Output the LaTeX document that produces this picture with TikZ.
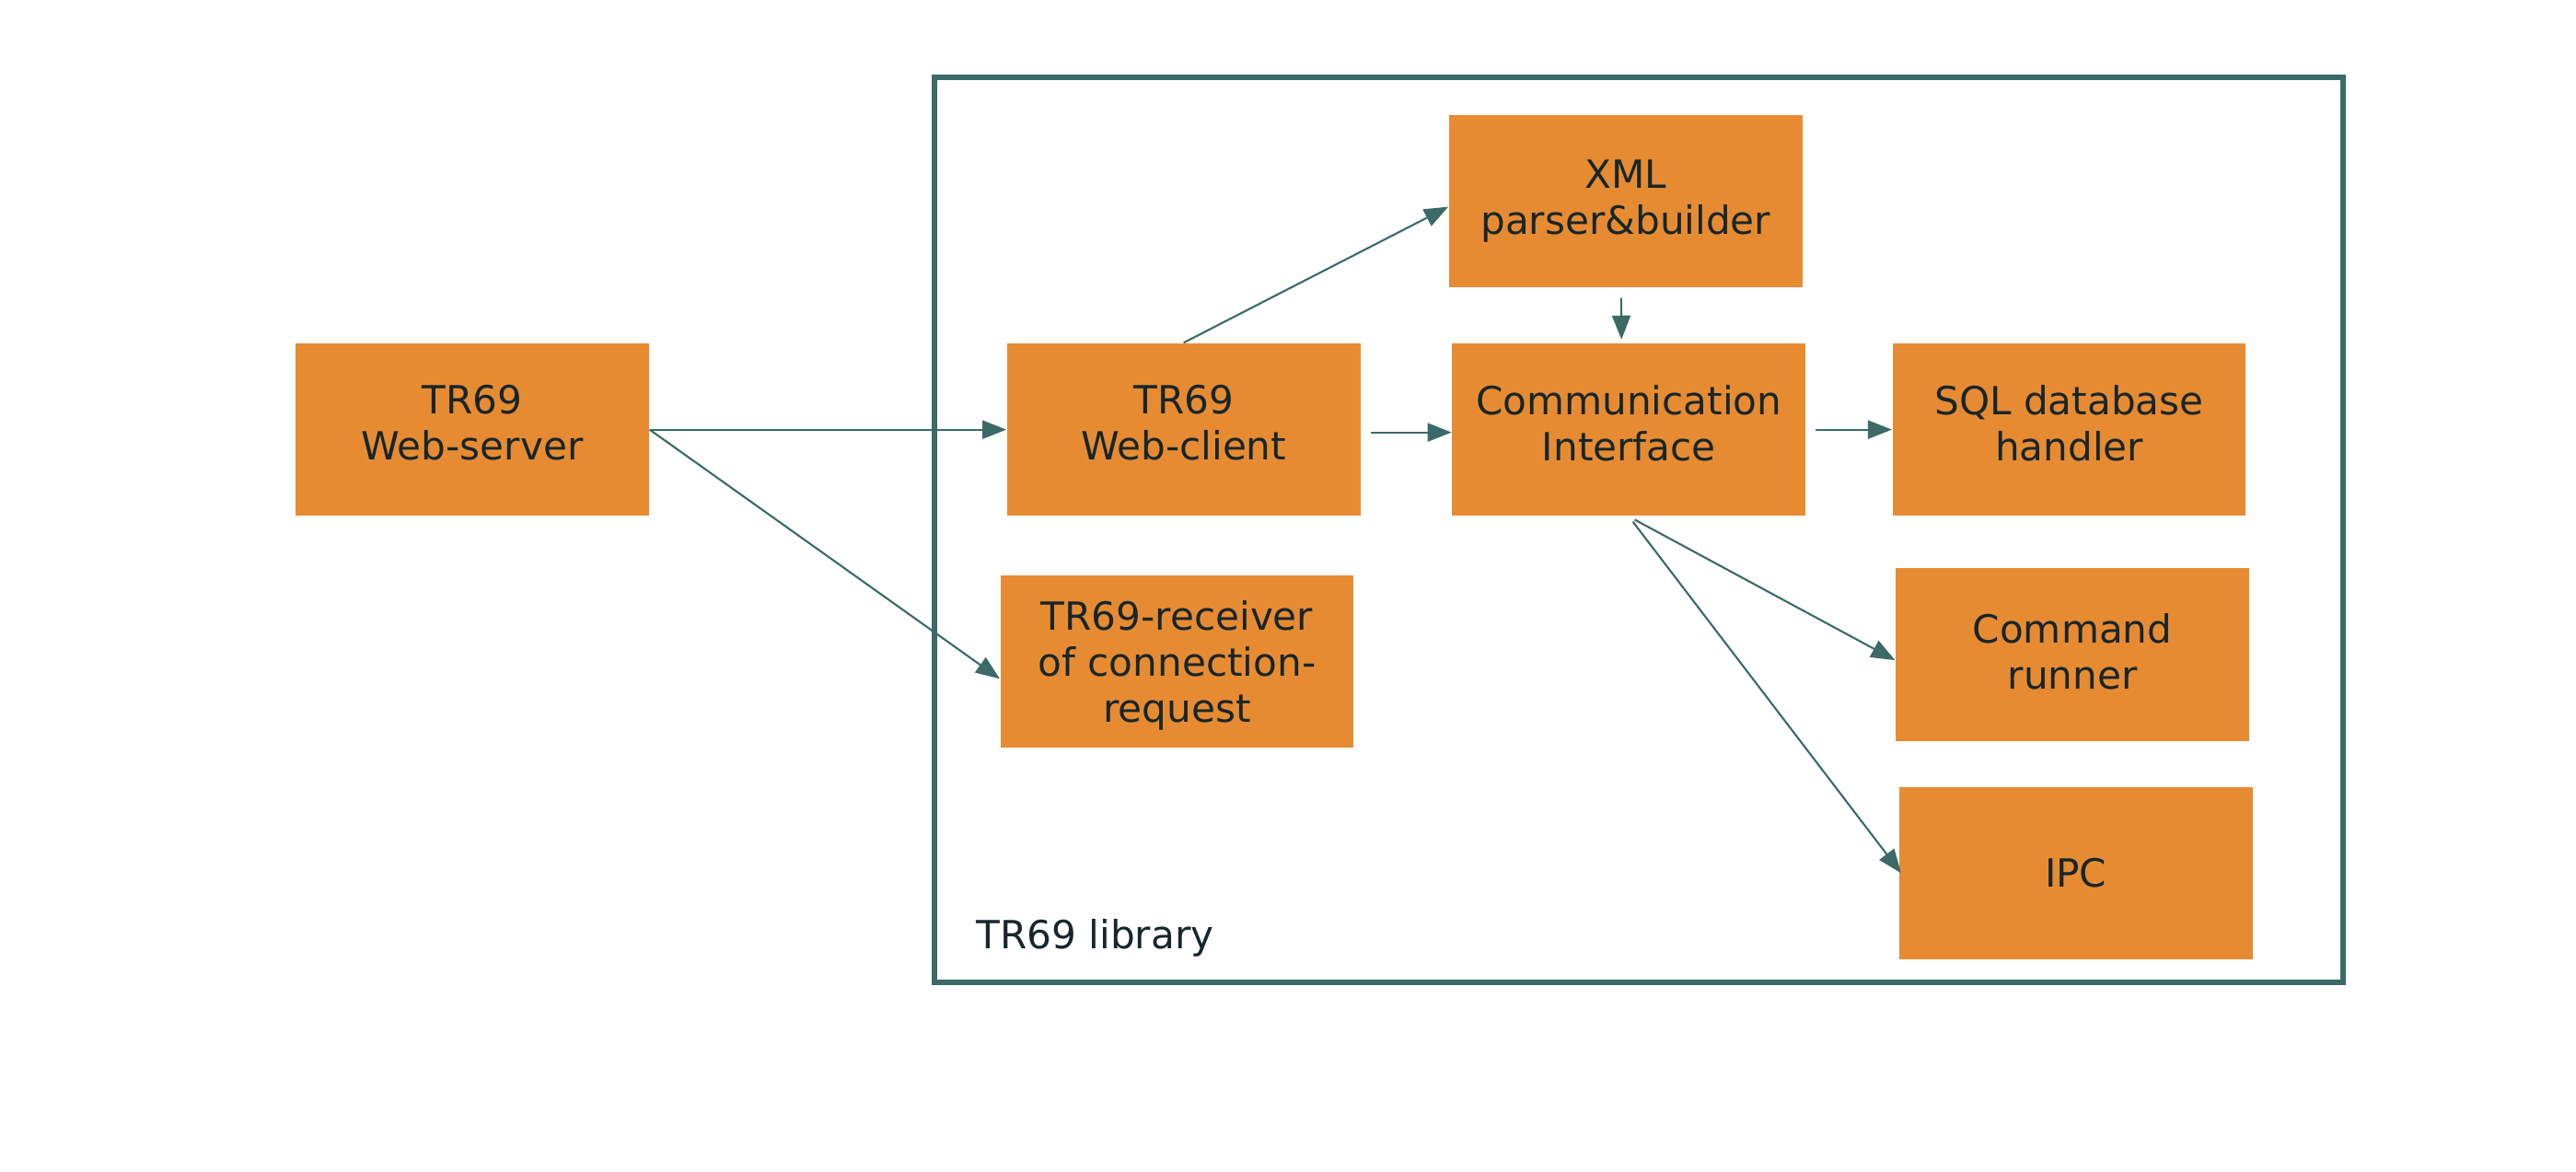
\documentclass[tikz,border=0pt]{standalone}
\usepackage{fontspec}
\setmainfont{DejaVu Sans}
\usepackage{xcolor}
\usepackage{tikz}
\usetikzlibrary{arrows.meta}
\definecolor{boxorange}{HTML}{E78B33}
\definecolor{linkteal}{HTML}{3B6A67}
\definecolor{labeltext}{HTML}{17262A}
\tikzstyle{module} = [rectangle, minimum width=3.84cm, minimum height=1.875cm, inner sep=0pt, align=center, fill=boxorange, text=labeltext, font=\fontsize{12}{14.2}\selectfont]
\tikzstyle{lifted} = [text depth=0.15cm]
\tikzstyle{arrow} = [line width=0.6pt, draw=linkteal, -{Triangle[length=0.26cm, width=0.2cm]}]

\begin{document}
\begin{tikzpicture}[x=0.017857cm, y=-0.017857cm]
	\useasboundingbox (0,0) rectangle (1568,713);

	% library frame
	\draw [line width=1.7pt, draw=linkteal] (569,47) rectangle (1426,598);
	\node (lib) [anchor=west, text=labeltext, font=\fontsize{12}{14.2}\selectfont, inner sep=0pt] at (594,571) {TR69 library};

	\node (server) [module, lifted] at (287.5,261.5) {TR69\\Web-server};
	\node (client) [module, lifted] at (720.5,261.5) {TR69\\Web-client};
	\node (receiver) [module, text depth=0pt] at (716.5,402.5) {TR69-receiver\\of connection-\\request};
	\node (xml) [module] at (989.5,122.5) {XML\\parser\&builder};
	\node (comm) [module, lifted] at (991.5,261.5) {Communication\\Interface};
	\node (sql) [module, lifted] at (1259.5,261.5) {SQL database\\handler};
	\node (command) [module, text depth=0.07cm] at (1261.5,398.5) {Command\\runner};
	\node (ipc) [module] at (1263.5,531.5) {IPC};

	\draw [arrow] (server.east) -- (client.west);
	\draw [arrow] (server.east) -- ([yshift=-0.19cm]receiver.west);
	\draw [arrow] (client.north) -- ([yshift=-0.06cm]xml.west);
	\draw [arrow, shorten <=3pt, shorten >=1pt] ([xshift=-0.05cm]xml.south) -- ([xshift=-0.08cm]comm.north);
	\draw [arrow, shorten <=3pt] ([yshift=-0.03cm]client.east) -- ([yshift=-0.03cm]comm.west);
	\draw [arrow, shorten <=3pt] (comm.east) -- (sql.west);
	\draw [arrow, shorten <=2pt] (comm.south) -- ([yshift=-0.06cm]command.west);
	\draw [arrow, shorten <=2pt] (comm.south) -- ([xshift=0.03cm]ipc.west);

\end{tikzpicture}
\end{document}
